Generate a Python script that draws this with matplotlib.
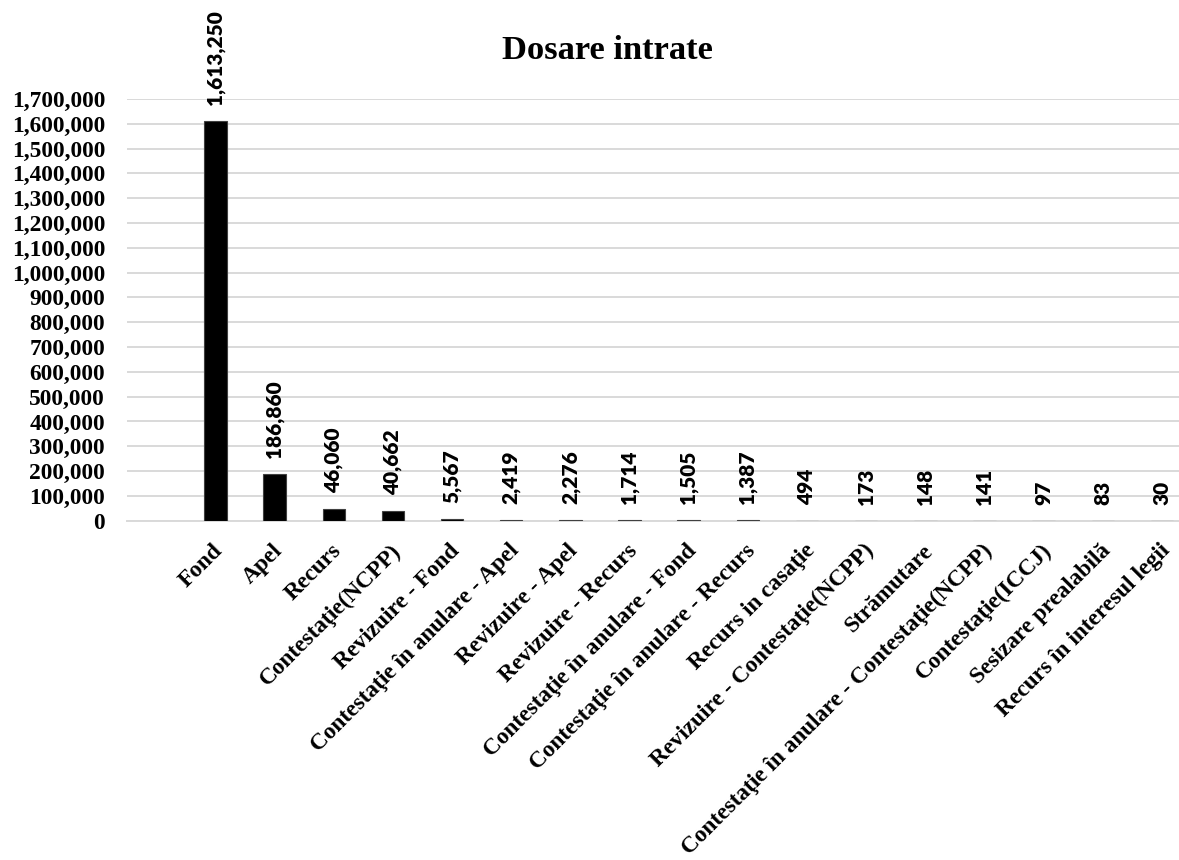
import matplotlib
matplotlib.use("Agg")
import matplotlib.pyplot as plt
import matplotlib.transforms as mtransforms
from matplotlib.ticker import FuncFormatter, MultipleLocator

categories = [
    "Fond", "Apel", "Recurs", "Contestaţie(NCPP)", "Revizuire - Fond",
    "Contestaţie în anulare - Apel", "Revizuire - Apel", "Revizuire - Recurs",
    "Contestaţie în anulare - Fond", "Contestaţie în anulare - Recurs",
    "Recurs in casaţie", "Revizuire - Contestaţie(NCPP)", "Strămutare",
    "Contestaţie în anulare - Contestaţie(NCPP)", "Contestaţie(ICCJ)",
    "Sesizare prealabilă", "Recurs în interesul legii",
]
values = [1613250, 186860, 46060, 40662, 5567, 2419, 2276, 1714, 1505,
          1387, 494, 173, 148, 141, 97, 83, 30]
title = "Dosare intrate"

W, H, DPI = 1179, 860, 100
fig = plt.figure(figsize=(W / DPI, H / DPI), dpi=DPI)
fig.patch.set_facecolor("white")

left_px, right_px = 126.7, 1191.6
top_px, bottom_px = 99.0, 520.7
ax = fig.add_axes([left_px / W, 1 - bottom_px / H,
                   (right_px - left_px) / W, (bottom_px - top_px) / H])

serif = "Liberation Serif"
sans = "Lato"

x = list(range(len(categories)))
ax.bar(x, values, width=0.38, color="black", edgecolor="#404040",
       linewidth=0.8, zorder=3)

ax.set_xlim(-1.5, len(categories) - 0.5)
ax.set_ylim(0, 1700000)
ax.yaxis.set_major_locator(MultipleLocator(100000))
ax.yaxis.set_major_formatter(FuncFormatter(lambda v, p: f"{int(v):,}"))
ax.grid(axis="y", color="#d9d9d9", linewidth=1.4, zorder=0)
ax.set_axisbelow(True)
for s in ["left", "right", "top"]:
    ax.spines[s].set_visible(False)
ax.spines["bottom"].set_color("#d9d9d9")
ax.spines["bottom"].set_linewidth(1.4)

ax.tick_params(axis="y", length=0, pad=15.6)
ax.tick_params(axis="x", length=0, pad=14)
for lab in ax.get_yticklabels():
    lab.set_fontfamily(serif)
    lab.set_fontweight("bold")
    lab.set_fontsize(16.8)

ax.set_xticks(x)
ax.set_xticklabels(categories, rotation=45, ha="right", va="top",
                   rotation_mode="anchor", fontfamily=serif,
                   fontweight="bold", fontsize=16.8)
offset = mtransforms.ScaledTranslation(-3 / DPI, 0, fig.dpi_scale_trans)
for lab in ax.get_xticklabels():
    lab.set_transform(lab.get_transform() + offset)

for xi, v in zip(x, values):
    ax.annotate(f"{v:,}", xy=(xi, v), xytext=(0, 11.5),
                textcoords="offset points", rotation=90,
                ha="center", va="bottom", fontfamily=sans,
                fontweight="heavy", fontsize=15, color="black")

fig.text(607.5 / W, 1 - 59.3 / H, title, ha="center", va="baseline",
         fontfamily=serif, fontweight="bold", fontsize=24.8)

fig.savefig("out.png", dpi=DPI, facecolor="white")
